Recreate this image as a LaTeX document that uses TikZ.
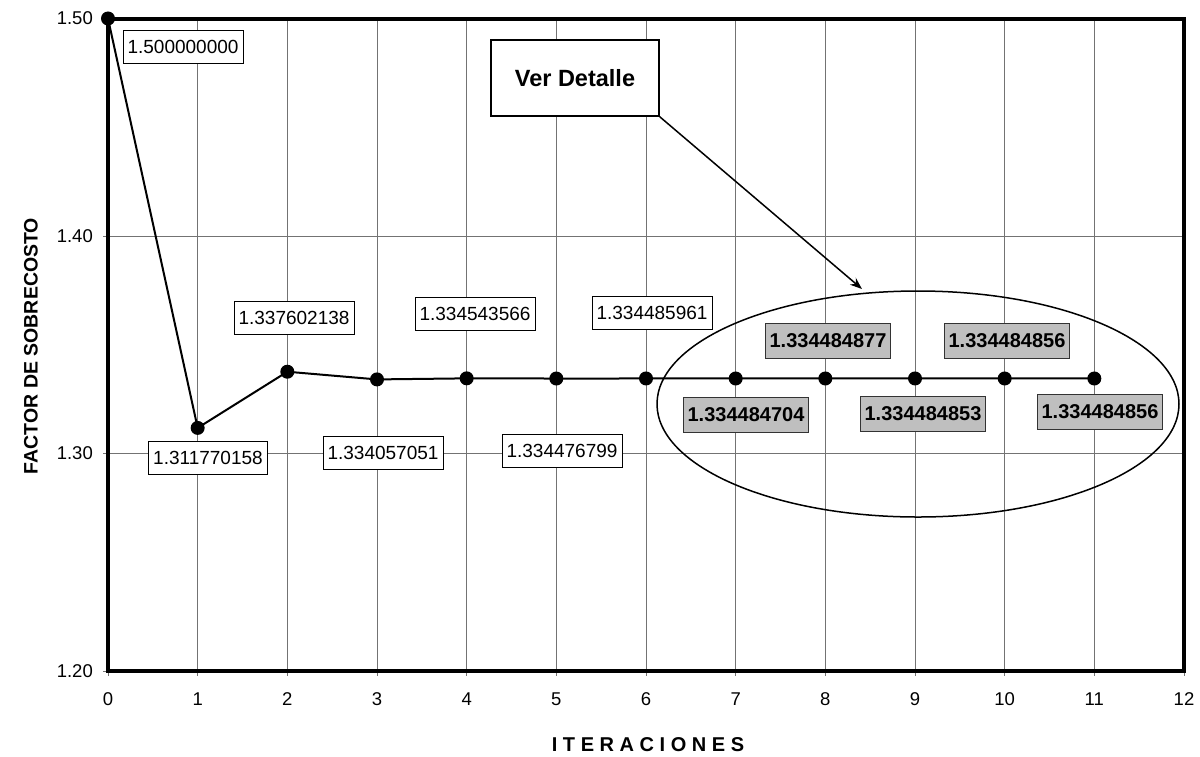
\documentclass[tikz,border=0pt]{standalone}
\usepackage{fontspec}
\setmainfont{Liberation Sans}
\usetikzlibrary{arrows.meta}
\begin{document}
\begin{tikzpicture}[x=1pt,y=-1pt,
  lbl/.style={draw=black, line width=0.9pt, fill=white, inner xsep=4.5pt, inner ysep=0pt, minimum height=33pt, font=\fontsize{19}{21}\selectfont},
  lblg/.style={lbl, fill=black!25, draw=black!80, minimum height=35pt, font=\fontsize{20}{22}\selectfont\bfseries},
  gridline/.style={draw=black!55, line width=1pt},
  frameline/.style={draw=black, line width=4pt},
  dataline/.style={draw=black, line width=2pt},
  mk/.style={circle, fill=black, inner sep=0pt, minimum size=14pt},
  ticklbl/.style={font=\fontsize{18.5}{20}\selectfont, inner sep=0pt},
  axtitle/.style={font=\fontsize{19.5}{21}\selectfont\bfseries, inner sep=0pt},
]
\useasboundingbox (0,0) rectangle (1200,756);
% grid
\foreach \i in {1,...,11}
  \draw[gridline] ({108+\i*89.667},19) -- ({108+\i*89.667},676);
\foreach \v in {1.3,1.4}
  \draw[gridline] (103,{671-(\v-1.2)*2175}) -- (1184,{671-(\v-1.2)*2175});
% ticks
\draw[gridline] (103,19) -- (108,19);
\draw[gridline] (103,671) -- (108,671);
\draw[gridline] (108,671) -- (108,676);
\draw[gridline] (1184,671) -- (1184,676);
% frame
\draw[frameline] (108,19) rectangle (1184,671);
% tick labels
\foreach \v/\t in {1.5/1.50,1.4/1.40,1.3/1.30,1.2/1.20}
  \node[ticklbl, anchor=east] (y\t) at (93,{671-(\v-1.2)*2175}) {\t};
\foreach \i in {0,...,12}
  \node[ticklbl] (x\i) at ({108+\i*89.667},699) {\i};
% axis titles
\node[axtitle, rotate=90] (ytitle) at (31,346) {FACTOR DE SOBRECOSTO};
\node[axtitle, font=\fontsize{20}{22}\selectfont\bfseries] (xtitle) at (648,745) {I T E R A C I O N E S};
% data
\foreach \i/\v in {0/1.5,1/1.311770158,2/1.337602138,3/1.334057051,4/1.334543566,5/1.334476799,6/1.334485961,7/1.334484704,8/1.334484877,9/1.334484853,10/1.334484856,11/1.334484856}
  \coordinate (c\i) at ({108+\i*89.667},{671-(\v-1.2)*2175});
\draw[dataline] (c0) -- (c1) -- (c2) -- (c3) -- (c4) -- (c5) -- (c6) -- (c7) -- (c8) -- (c9) -- (c10) -- (c11);
\foreach \i in {0,...,11}
  \node[mk] (p\i) at (c\i) {};
% value labels
\node[lbl] (l0) at (183,47) {1.500000000};
\node[lbl] (l1) at (208,458) {1.311770158};
\node[lbl] (l2) at (294,318) {1.337602138};
\node[lbl] (l3) at (383,453) {1.334057051};
\node[lbl] (l4) at (475,314) {1.334543566};
\node[lbl] (l5) at (562,451) {1.334476799};
\node[lbl] (l6) at (652,313) {1.334485961};
\node[lblg] (l7) at (746,415) {1.334484704};
\node[lblg] (l8) at (828,341) {1.334484877};
\node[lblg] (l9) at (923,414) {1.334484853};
\node[lblg] (l10) at (1007,341) {1.334484856};
\node[lblg] (l11) at (1100,412) {1.334484856};
% detail ellipse
\draw[line width=1.5pt] (918,404) ellipse (261 and 113);
% call-out
\node[draw=black, line width=1.5pt, fill=white, minimum width=168pt, minimum height=76pt, font=\fontsize{23.5}{25}\selectfont\bfseries] (vd) at (575,78) {Ver Detalle};
\coordinate (tip) at (862,289);
\draw[line width=1.5pt, -{Stealth[length=12pt,width=9pt]}] (vd.south east) -- (tip);
\end{tikzpicture}
\end{document}
